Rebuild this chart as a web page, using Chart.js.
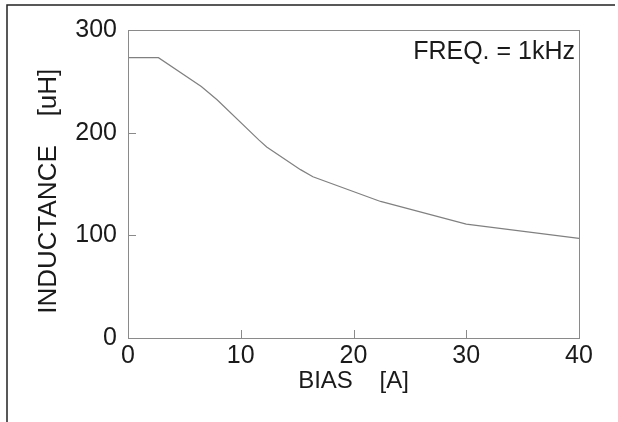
<!DOCTYPE html>
<html>
<head>
<meta charset="utf-8">
<script src="https://cdn.jsdelivr.net/npm/chart.js@4.4.0/dist/chart.umd.min.js"></script>
<style>
  html, body { margin: 0; padding: 0; background: #fff; }
  canvas { display: block; }
</style>
</head>
<body>
<canvas id="chart" width="618" height="422"></canvas>
<script>
// ----------------------------
// Data
// ----------------------------
const biasA = [0, 2.7, 6.5, 7.9, 11.6, 12.3, 15.3, 16.4, 22.4, 30, 40];
const inductanceUH = [273, 273, 245, 232, 193, 186, 164, 157, 133, 111, 97];
const xTickValues = [0, 10, 20, 30, 40];
const yTickValues = [0, 100, 200, 300];
const noteText = "FREQ. = 1kHz";

const FONT = "'Liberation Sans', Arial, sans-serif";
const INK = "#1a1a1a";
const AXIS_GREY = "#8a8a8a";

// ----------------------------
// Plugins: outer frame, plot box, inward ticks, note
// ----------------------------
const framePlugin = {
  id: "frame",
  beforeDraw(chart) {
    const ctx = chart.ctx;
    ctx.save();
    ctx.strokeStyle = "#222";
    ctx.lineWidth = 1.5;
    ctx.beginPath();
    ctx.moveTo(615, 5);
    ctx.lineTo(7, 5);
    ctx.lineTo(7, 422);
    ctx.stroke();
    ctx.restore();
  },
  afterDraw(chart) {
    const { ctx, chartArea: a, scales } = chart;
    ctx.save();
    ctx.strokeStyle = AXIS_GREY;
    ctx.lineWidth = 1;
    ctx.strokeRect(a.left + 0.5, a.top + 0.5, a.right - a.left, a.bottom - a.top);

    // inward tick marks
    ctx.beginPath();
    xTickValues.slice(1, -1).forEach(v => {
      const px = Math.round(scales.x.getPixelForValue(v)) + 0.5;
      ctx.moveTo(px, a.bottom);
      ctx.lineTo(px, a.bottom - 8);
    });
    yTickValues.slice(1, -1).forEach(v => {
      const py = Math.round(scales.y.getPixelForValue(v)) + 0.5;
      ctx.moveTo(a.left, py);
      ctx.lineTo(a.left + 8, py);
    });
    ctx.stroke();

    // frequency note
    ctx.fillStyle = INK;
    ctx.font = "25px " + FONT;
    ctx.textAlign = "right";
    ctx.textBaseline = "middle";
    ctx.fillText(noteText, a.right - 4, a.top + 22);
    ctx.restore();
  }
};

// ----------------------------
// Chart
// ----------------------------
new Chart(document.getElementById("chart"), {
  type: "line",
  data: {
    datasets: [{
      data: biasA.map((x, i) => ({ x: x, y: inductanceUH[i] })),
      borderColor: "#808080",
      borderWidth: 1.2,
      pointRadius: 0,
      tension: 0,
      fill: false
    }]
  },
  options: {
    responsive: false,
    animation: false,
    layout: { padding: { top: 30, right: 39, left: 0, bottom: 0 } },
    plugins: { legend: { display: false }, tooltip: { enabled: false } },
    scales: {
      x: {
        type: "linear",
        min: 0, max: 40,
        afterFit: s => { s.height = 84; },
        afterBuildTicks: s => { s.ticks = xTickValues.map(v => ({ value: v })); },
        grid: { display: false, drawTicks: false },
        border: { display: false },
        ticks: { color: INK, font: { family: FONT, size: 25 }, padding: 3, maxRotation: 0 },
        title: {
          display: true,
          text: "BIAS    [A]",
          color: INK,
          font: { family: FONT, size: 24 },
          padding: { top: 0, bottom: 26 }
        }
      },
      y: {
        min: 0, max: 300,
        afterFit: s => { s.width = 128; },
        afterBuildTicks: s => { s.ticks = yTickValues.map(v => ({ value: v })); },
        grid: { display: false, drawTicks: false },
        border: { display: false },
        ticks: { color: INK, font: { family: FONT, size: 25 }, padding: 11 },
        title: {
          display: true,
          text: "INDUCTANCE    [uH]  ",
          color: INK,
          font: { family: FONT, size: 26 },
          padding: { top: 33, bottom: 0 }
        }
      }
    }
  },
  plugins: [framePlugin]
});
</script>
</body>
</html>
